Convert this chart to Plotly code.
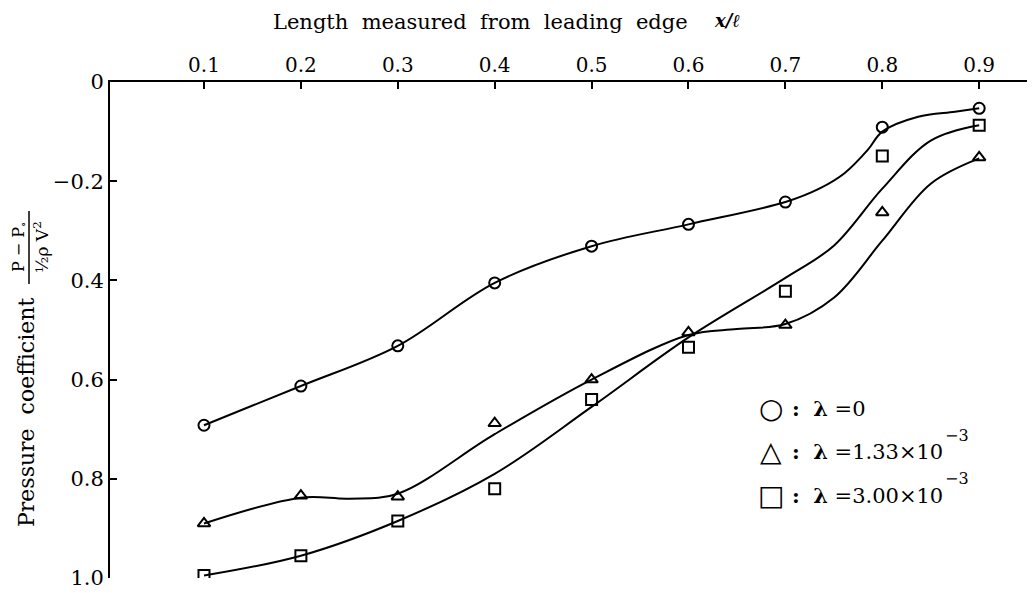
import plotly.graph_objects as go

# ---- measured points (x/l, pressure coefficient) ----
x_pos = [0.1, 0.2, 0.3, 0.4, 0.5, 0.6, 0.7, 0.8, 0.9]
x_ticktext = ["0.1", "0.2", "0.3", "0.4", "0.5", "0.6", "0.7", "0.8", "0.9"]
y_tickvals = [0.0, 0.2, 0.4, 0.6, 0.8, 1.0]
y_ticktext = ["0", "\u22120.2", "0.4", "0.6", "0.8", "1.0"]

cp_lam0 = [0.692, 0.613, 0.532, 0.405, 0.331, 0.287, 0.242, 0.091, 0.053]
cp_lam133 = [0.890, 0.834, 0.836, 0.688, 0.600, 0.505, 0.490, 0.263, 0.152]
cp_lam300 = [0.995, 0.955, 0.885, 0.820, 0.640, 0.535, 0.422, 0.149, 0.087]

# ---- hand-faired curves ----
fit0_x = [0.1, 0.2, 0.3, 0.4, 0.5, 0.6, 0.7, 0.736, 0.761, 0.785, 0.8, 0.837, 0.875, 0.9]
fit0_y = [0.692, 0.613, 0.532, 0.405, 0.331, 0.287, 0.242, 0.214, 0.184, 0.137, 0.100, 0.070, 0.060, 0.053]

fit133_x = [0.1, 0.2, 0.25, 0.3, 0.4, 0.5, 0.6, 0.65, 0.7, 0.75, 0.8, 0.85, 0.9]
fit133_y = [0.890, 0.838, 0.840, 0.830, 0.710, 0.600, 0.510, 0.498, 0.488, 0.435, 0.320, 0.205, 0.154]

fit300_x = [0.1, 0.2, 0.3, 0.4, 0.5, 0.6, 0.7, 0.75, 0.8, 0.85, 0.9]
fit300_y = [0.995, 0.955, 0.885, 0.790, 0.655, 0.515, 0.395, 0.330, 0.215, 0.118, 0.087]

series = [
    ("\u03bb = 0", cp_lam0, fit0_x, fit0_y, "circle-open"),
    ("\u03bb = 1.33\u00d710\u207b\u00b3", cp_lam133, fit133_x, fit133_y, "triangle-up-open"),
    ("\u03bb = 3.00\u00d710\u207b\u00b3", cp_lam300, fit300_x, fit300_y, "square-open"),
]

fig = go.Figure()
for name, pts, fx, fy, sym in series:
    fig.add_trace(go.Scatter(x=fx, y=fy, mode="lines",
                             line=dict(color="black", width=2, shape="spline", smoothing=1.0),
                             showlegend=False, hoverinfo="skip"))
    fig.add_trace(go.Scatter(x=x_pos, y=pts, mode="markers", name=name, showlegend=False,
                             marker=dict(symbol=sym, size=11, color="black",
                                         line=dict(width=2, color="black"))))

SERIF = "DejaVu Serif, serif"

# page body adds an 8px offset; plot area wanted at window px 110..1035 x 82..578
OFF = 8
WL, WT, WR, WB = 110, 82, 1035, 578
W, H = 1035 - OFF, 593 - OFF
L, T = WL - OFF, WT - OFF
PW, PH = WR - WL, WB - WT
R = W - L - PW
B = H - T - PH


def px(xp):
    return (xp - WL) / PW


def py(yp):
    return (WB - yp) / PH


def note(xp, yp, text, size, family=SERIF, angle=0, xanchor="center"):
    return dict(x=px(xp), y=py(yp), xref="paper", yref="paper", text=text, showarrow=False,
                textangle=angle, font=dict(family=family, size=size, color="black"),
                xanchor=xanchor, yanchor="middle")


ann = [
    note(480, 22, "Length  measured  from  leading  edge", 21),
    note(727, 20, "<b><i>x/\u2113</i></b>", 18),
    note(26, 413, "Pressure  coefficient", 22, angle=-90),
    note(19, 247, "P \u2212 P<sub>\u2218</sub>", 16, angle=-90),
    note(41, 247, "\u00bd\u03c1 V<sup>2</sup>", 17, angle=-90),
]
legend_rows = [
    (408, "\u25cb", "<b>:</b>  <b>\u03bb</b> =0", None),
    (451, "\u25b3", "<b>:</b>  <b>\u03bb</b> =1.33\u00d710", 436),
    (495, "\u25a1", "<b>:</b>  <b>\u03bb</b> =3.00\u00d710", 478),
]
for yy, sym, txt, ey in legend_rows:
    ann.append(note(771, yy, sym, 28, family="DejaVu Sans"))
    ann.append(note(790, yy, txt, 21, xanchor="left"))
    if ey is not None:
        ann.append(note(943, ey, "\u22123", 16, xanchor="left"))

shapes = [dict(type="line", xref="paper", yref="paper", x0=px(29), x1=px(29), y0=py(211), y1=py(284),
               line=dict(color="black", width=1.5))]

fig.update_layout(
    width=W, height=H,
    margin=dict(l=L, r=R, t=T, b=B, pad=0, autoexpand=False),
    paper_bgcolor="white", plot_bgcolor="white",
    showlegend=False,
    annotations=ann, shapes=shapes,
    font=dict(family=SERIF, color="black"),
    xaxis=dict(side="top", range=[0.003, 0.9576], tickvals=x_pos, ticktext=x_ticktext,
               ticks="inside", ticklen=7, tickwidth=2, tickcolor="black",
               showline=True, linewidth=2, linecolor="black", showgrid=False, zeroline=False,
               tickfont=dict(family=SERIF, size=20, color="black")),
    yaxis=dict(range=[1.0, 0.0], tickvals=y_tickvals, ticktext=y_ticktext,
               ticks="inside", ticklen=7, tickwidth=2, tickcolor="black",
               showline=True, linewidth=2, linecolor="black", showgrid=False, zeroline=False,
               tickfont=dict(family=SERIF, size=21, color="black")),
)

fig.write_html("out.html")
